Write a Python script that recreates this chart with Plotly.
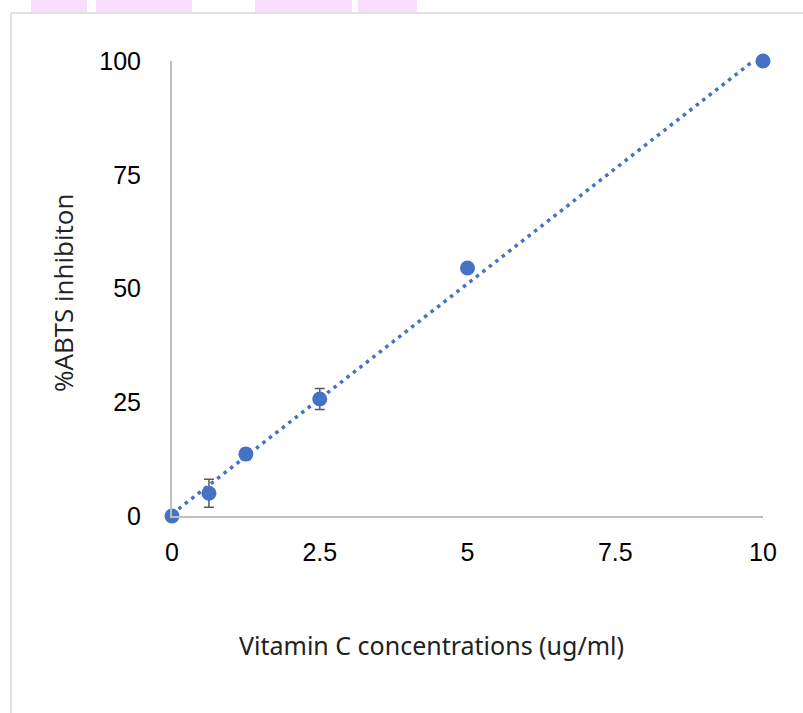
import numpy as np
import plotly.graph_objects as go

# Data
conc = [0, 0.625, 1.25, 2.5, 5, 10]
inhibition = [0, 5.0, 13.6, 25.7, 54.5, 100]
err = [0, 3.1, 1.2, 2.3, 0.6, 0.3]
x_ticks = [0, 2.5, 5, 7.5, 10]
x_tick_labels = ["0", "2.5", "5", "7.5", "10"]
y_ticks = [0, 25, 50, 75, 100]
y_tick_labels = ["0", "25", "50", "75", "100"]

W, H = 803, 713
L, R, T, B = 172, 40, 61, 197
pw, ph = W - L - R, H - T - B

def px(x):
    return (x - L) / pw

def py(y):
    return (H - B - y) / ph

# linear trendline (as in the spreadsheet)
slope, intercept = np.polyfit(conc, inhibition, 1)
tx = [0, 10]
ty = [intercept, intercept + slope * 10]

fig = go.Figure()
fig.add_trace(go.Scatter(
    x=tx, y=ty, mode="lines",
    line=dict(color="#4472C4", width=3.5, dash="3.5px,4.7px"),
    hoverinfo="skip", showlegend=False, cliponaxis=False,
))
fig.add_trace(go.Scatter(
    x=conc, y=inhibition, mode="markers",
    marker=dict(color="#4472C4", size=15),
    error_y=dict(type="data", array=err, visible=True, color="#595959", thickness=1.5, width=5),
    showlegend=False, cliponaxis=False,
))

shapes = []
# watermark-like pink blocks at the top
for a, b in [(31, 87), (96, 192), (255, 352), (358, 417)]:
    shapes.append(dict(type="rect", xref="paper", yref="paper",
                       x0=px(a), x1=px(b), y0=py(13), y1=py(0),
                       fillcolor="#F6DEFC", line=dict(width=0), layer="below"))
# chart border
shapes.append(dict(type="line", xref="paper", yref="paper",
                   x0=px(11), x1=px(803), y0=py(13), y1=py(13),
                   line=dict(color="#D9D9D9", width=1.5)))
shapes.append(dict(type="line", xref="paper", yref="paper",
                   x0=px(11), x1=px(11), y0=py(13), y1=py(713),
                   line=dict(color="#D9D9D9", width=1.5)))

annotations = [
    dict(text="Vitamin C concentrations (ug/ml)", xref="paper", yref="paper",
         x=px(431), y=py(645), xanchor="center", yanchor="middle", showarrow=False,
         font=dict(family="Noto Sans", size=25, color="#222222")),
    dict(text="%ABTS inhibiton", xref="paper", yref="paper", textangle=-90,
         x=px(63), y=py(293), xanchor="center", yanchor="middle", showarrow=False,
         font=dict(family="Open Sans", size=26, color="#222222")),
]

fig.update_layout(
    width=W, height=H,
    margin=dict(l=L, r=R, t=T, b=B),
    paper_bgcolor="white", plot_bgcolor="white",
    shapes=shapes,
    annotations=annotations,
    xaxis=dict(
        range=[0, 10], tickvals=x_ticks, ticktext=x_tick_labels,
        showgrid=False, zeroline=False, showline=True, linecolor="#BFBFBF", linewidth=2,
        ticks="", ticklabelstandoff=13,
        tickfont=dict(family="Liberation Sans, Arial", size=25, color="#000000"),
    ),
    yaxis=dict(
        range=[0, 100], tickvals=y_ticks, ticktext=y_tick_labels,
        showgrid=False, zeroline=False, showline=True, linecolor="#BFBFBF", linewidth=2,
        ticks="", ticklabelstandoff=24,
        tickfont=dict(family="Liberation Sans, Arial", size=25, color="#000000"),
    ),
)

fig.write_html("out.html")
